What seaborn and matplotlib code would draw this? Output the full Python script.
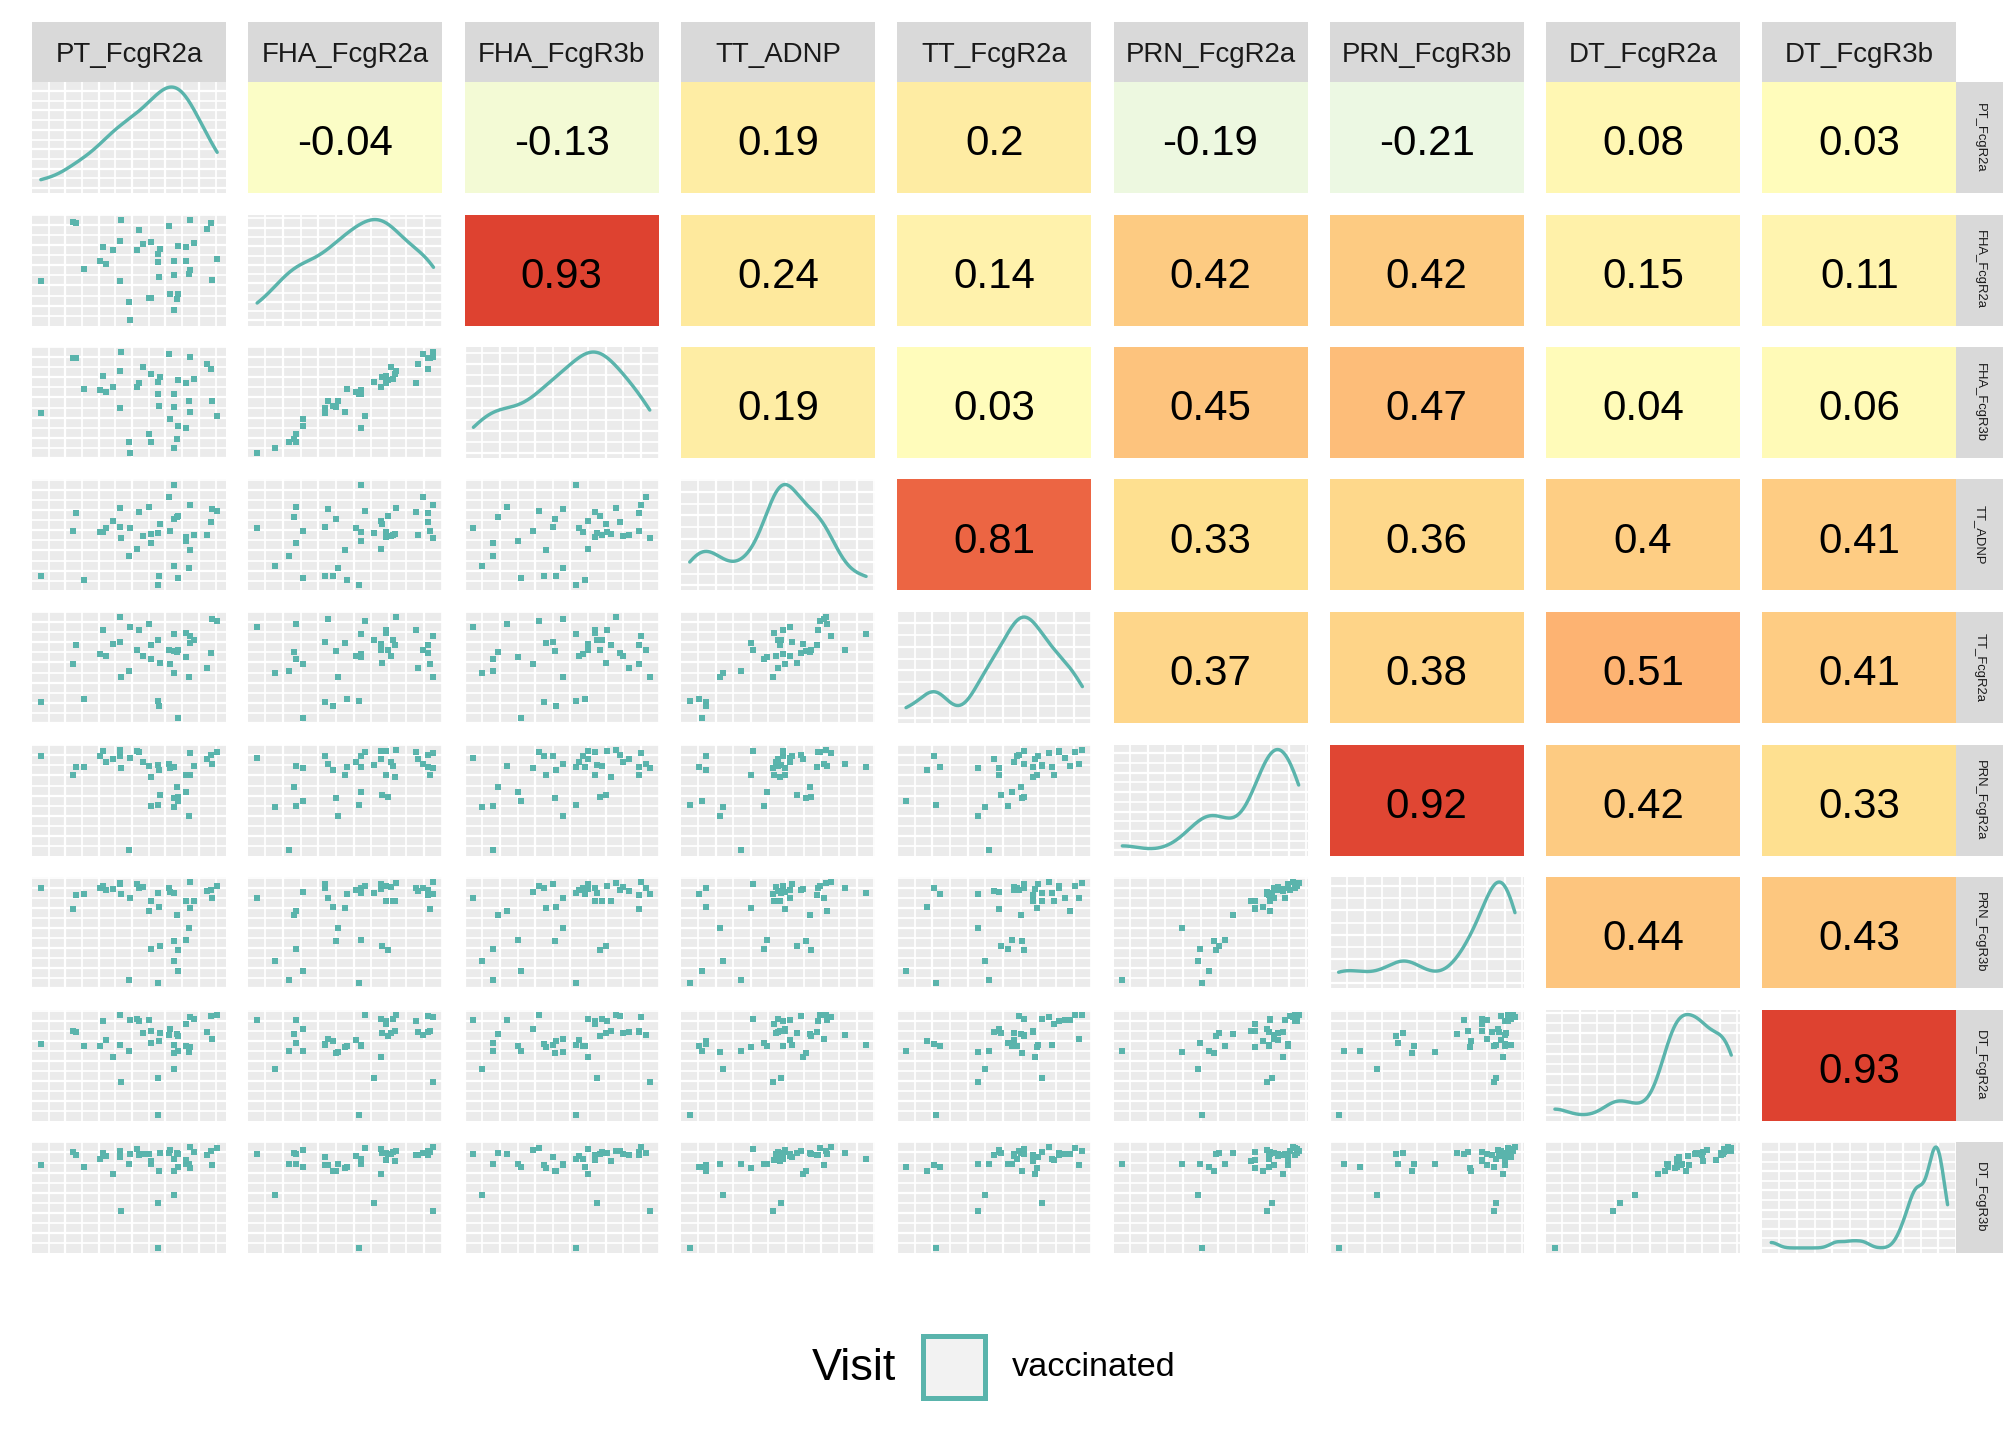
import numpy as np
import pandas as pd
import matplotlib
matplotlib.use("Agg")
import matplotlib.pyplot as plt
import seaborn as sns
from matplotlib.colors import LinearSegmentedColormap
from matplotlib.patches import Rectangle
from matplotlib.ticker import MaxNLocator, AutoMinorLocator

variables = ["PT_FcgR2a", "FHA_FcgR2a", "FHA_FcgR3b", "TT_ADNP", "TT_FcgR2a",
             "PRN_FcgR2a", "PRN_FcgR3b", "DT_FcgR2a", "DT_FcgR3b"]

# one value per vaccinated subject (arbitrary units)
pt_fcgr2a = [27, 123, 132, 156, 204, 213, 222, 243, 264, 264, 267, 291, 294, 315, 321, 333, 351, 357, 357, 378,
             378, 381, 384, 411, 414, 426, 426, 426, 435, 438, 438, 462, 462, 471, 474, 474, 486, 525, 537, 540, 555]
fha_fcgr2a = [132, 310, 307, 169, 193, 235, 184, 226, 253, 132, 316, 70, 16, 226, 286, 244, 82, 250, 82, 214,
              190, 145, 229, 298, 94, 193, 151, 46, 79, 238, 94, 235, 193, 154, 316, 166, 247, 289, 307, 136, 199]
fha_fcgr3b = [135, 297, 297, 204, 201, 243, 195, 210, 258, 150, 315, 48, 15, 210, 222, 270, 72, 249, 48, 225,
              189, 156, 240, 309, 117, 189, 153, 30, 57, 231, 96, 222, 90, 168, 300, 138, 234, 279, 264, 168, 126]
tt_adnp = [43, 178, 232, 31, 175, 175, 187, 208, 247, 190, 157, 103, 187, 124, 235, 163, 250, 169, 142, 172,
           16, 43, 199, 280, 178, 316, 214, 73, 220, 223, 37, 160, 148, 67, 256, 121, 166, 166, 205, 244, 238]
tt_fcgr2a = [63, 174, 231, 72, 204, 276, 198, 234, 315, 240, 138, 156, 285, 216, 276, 198, 294, 231, 189, 246,
             66, 51, 177, 216, 174, 264, 213, 150, 210, 216, 15, 267, 195, 138, 258, 237, 246, 165, 207, 309, 303]
prn_fcgr2a = [299, 242, 266, 266, 299, 314, 281, 290, 317, 299, 263, 17, 293, 314, 311, 281, 269, 236, 149, 272,
              152, 257, 182, 275, 263, 266, 173, 146, 206, 176, 164, 242, 191, 119, 308, 242, 269, 290, 302, 275, 311]
prn_fcgr3b = [300, 237, 279, 282, 300, 306, 294, 297, 315, 312, 282, 24, 270, 312, 300, 303, 231, 261, 117, 285,
              15, 243, 126, 300, 288, 285, 141, 81, 219, 114, 51, 261, 144, 180, 318, 240, 261, 291, 294, 270, 306]
dt_fcgr2a = [233, 272, 269, 227, 227, 302, 245, 194, 320, 230, 116, 212, 305, 308, 302, 266, 305, 272, 236, 128,
             17, 242, 266, 260, 278, 230, 206, 155, 263, 257, 212, 293, 227, 209, 314, 224, 308, 269, 317, 248, 320]
dt_fcgr3b = [262, 301, 292, 256, 280, 298, 289, 235, 304, 286, 127, 265, 295, 310, 292, 295, 295, 274, 265, 151,
             16, 244, 298, 298, 307, 280, 244, 172, 298, 295, 256, 277, 265, 265, 316, 253, 301, 292, 304, 262, 313]

# correlations printed in the upper triangle, row by row
corr_upper = [
    [-0.04, -0.13, 0.19, 0.2, -0.19, -0.21, 0.08, 0.03],
    [0.93, 0.24, 0.14, 0.42, 0.42, 0.15, 0.11],
    [0.19, 0.03, 0.45, 0.47, 0.04, 0.06],
    [0.81, 0.33, 0.36, 0.4, 0.41],
    [0.37, 0.38, 0.51, 0.41],
    [0.92, 0.42, 0.33],
    [0.44, 0.43],
    [0.93],
]

legend_title = "Visit"
legend_label = "vaccinated"

df = pd.DataFrame(dict(zip(variables, [pt_fcgr2a, fha_fcgr2a, fha_fcgr3b, tt_adnp, tt_fcgr2a,
                                       prn_fcgr2a, prn_fcgr3b, dt_fcgr2a, dt_fcgr3b])))

sns.set_theme(style="darkgrid", rc={"axes.facecolor": "#EBEBEB", "grid.color": "white",
                                    "figure.facecolor": "white"})
plt.rcParams["font.family"] = ["Liberation Sans", "DejaVu Sans"]

TEAL = "#5AB4AC"
STRIP = "#D9D9D9"
cmap = LinearSegmentedColormap.from_list(
    "rdylbu7", ["#4575B4", "#91BFDB", "#E0F3F8", "#FFFFBF", "#FEE090", "#FC8D59", "#D73027"])

W, H = 2016, 1440
fig = plt.figure(figsize=(W / 144, H / 144), dpi=144)

left0, top0, pw, ph, dx, dy = 32, 82, 194, 111, 216.3, 132.5
n = len(variables)


def rect(x, y, w, h):
    return [x / W, 1 - (y + h) / H, w / W, h / H]


def limits(v):
    lo, hi = min(v), max(v)
    pad = 0.05 * (hi - lo)
    return lo - pad, hi + pad


def style_grid(ax, nx=6, ny=6):
    ax.xaxis.set_major_locator(MaxNLocator(nbins=nx))
    ax.yaxis.set_major_locator(MaxNLocator(nbins=ny))
    ax.xaxis.set_minor_locator(AutoMinorLocator(2))
    ax.yaxis.set_minor_locator(AutoMinorLocator(2))
    ax.grid(True, which="major", color="white", lw=1.1)
    ax.grid(True, which="minor", color="white", lw=0.9)
    ax.tick_params(which="both", length=0, labelbottom=False, labelleft=False)
    for s in ax.spines.values():
        s.set_visible(False)
    ax.set_xlabel("")
    ax.set_ylabel("")


for i, vi in enumerate(variables):
    for j, vj in enumerate(variables):
        ax = fig.add_axes(rect(left0 + j * dx, top0 + i * dy, pw, ph))
        if i == j:
            vals = np.asarray(df[vi], dtype=float)
            sd = vals.std(ddof=1)
            iqr = np.subtract(*np.percentile(vals, [75, 25]))
            # R's nrd0 bandwidth, as geom_density uses
            adj = 0.9 * min(sd, iqr / 1.34) / sd
            sns.kdeplot(data=df, x=vi, ax=ax, color=TEAL, lw=1.7, cut=0, bw_adjust=adj)
            ymax = ax.lines[0].get_ydata().max()
            ax.set_xlim(limits(df[vi]))
            ax.set_ylim(-0.05 * ymax, 1.05 * ymax)
            style_grid(ax)
        elif i > j:
            sns.scatterplot(data=df, x=vj, y=vi, ax=ax, color=TEAL, marker="s", s=7,
                            linewidth=0, legend=False)
            ax.set_xlim(limits(df[vj]))
            ax.set_ylim(limits(df[vi]))
            style_grid(ax)
        else:
            r = corr_upper[i][j - i - 1]
            sns.heatmap(np.array([[r]]), ax=ax, cmap=cmap, vmin=-1, vmax=1, cbar=False,
                        annot=np.array([[f"{r:g}"]]), fmt="",
                        annot_kws={"size": 21, "color": "black"},
                        xticklabels=False, yticklabels=False)
            ax.tick_params(length=0)
            for t in ax.texts:
                t.set_y(t.get_position()[1] + 0.06)

# top strips
for j, v in enumerate(variables):
    sax = fig.add_axes(rect(left0 + j * dx, top0 - 60, pw, 60))
    sax.set_facecolor(STRIP)
    sax.set_xticks([])
    sax.set_yticks([])
    sax.grid(False)
    for s in sax.spines.values():
        s.set_visible(False)
    sax.text(0.5, 0.45, v, ha="center", va="center", fontsize=13.8, color="#1A1A1A",
             transform=sax.transAxes)

# right strips
right_x = left0 + (n - 1) * dx + pw
for i, v in enumerate(variables):
    sax = fig.add_axes(rect(right_x, top0 + i * dy, 47, ph))
    sax.set_facecolor(STRIP)
    sax.set_xticks([])
    sax.set_yticks([])
    sax.grid(False)
    for s in sax.spines.values():
        s.set_visible(False)
    sax.text(0.5, 0.5, v, ha="center", va="center", rotation=270, fontsize=6.5,
             color="#1A1A1A", transform=sax.transAxes)

# legend
fig.text(896 / W, 1 - 1368 / H, legend_title, ha="right", va="center", fontsize=22.5, color="black")
fig.patches.append(Rectangle((923 / W, 1 - 1398 / H), 62 / W, 62 / H, transform=fig.transFigure,
                             facecolor="#F2F2F2", edgecolor=TEAL, lw=2.5))
fig.text(1012 / W, 1 - 1368 / H, legend_label, ha="left", va="center", fontsize=17.1, color="black")

fig.savefig("out.png", dpi=144, facecolor="white")
